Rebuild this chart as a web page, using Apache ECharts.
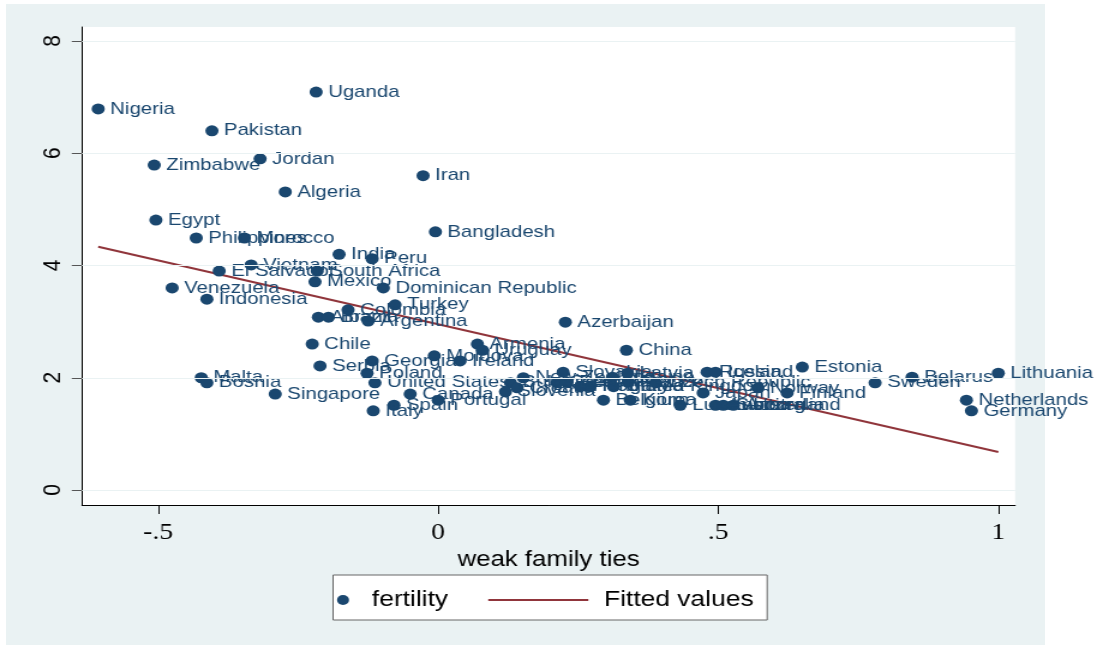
<!DOCTYPE html>
<html>
<head>
<meta charset="utf-8">
<title>fertility vs weak family ties</title>
<script src="https://cdn.jsdelivr.net/npm/echarts@6/dist/echarts.min.js"></script>
<style>
  html, body { margin: 0; padding: 0; background: #fff; }
  #bg { position: absolute; left: 6px; top: 4px; width: 1039px; height: 641px; background: #eaf2f3; }
  /* the reference is stretched 1.2x sideways, so draw narrow and stretch */
  #main { position: absolute; left: 0; top: 0; width: 914px; height: 647px; transform: scaleX(1.2002); transform-origin: 0 0; }
</style>
</head>
<body>
<div id="bg"></div>
<div id="main"></div>
<script>
var countries = ['Nigeria','Uganda','Pakistan','Zimbabwe','Jordan','Iran','Algeria','Egypt','Bangladesh',
  'Philippines','Morocco','India','Peru','Vietnam','El Salvador','South Africa','Mexico','Dominican Republic',
  'Venezuela','Indonesia','Turkey','Colombia','Albania','Brazil','Argentina','Azerbaijan','Chile','Armenia',
  'Uruguay','China','Moldova','Ireland','Georgia','Serbia','Poland','Estonia','Malta','Bosnia','United States',
  'Singapore','Canada','Portugal','Spain','Italy','Lithuania','Belarus','Sweden','Netherlands','Germany',
  'New Zealand','Bulgaria','Croatia','Slovenia','Slovakia','Greece','Denmark','Hungary','Romania','Belgium',
  'Ukraine','Latvia','France','United Kingdom','Korea','Czech Republic','Russia','Iceland','Luxembourg','Japan',
  'Norway','Finland','Austria','Switzerland','Australia'];
var familyTies = [-0.607,-0.218,-0.404,-0.507,-0.318,-0.027,-0.273,-0.504,-0.005,
  -0.432,-0.346,-0.177,-0.118,-0.334,-0.391,-0.216,-0.220,-0.098,
  -0.475,-0.413,-0.077,-0.161,-0.214,-0.196,-0.125,0.227,-0.225,0.070,
  0.079,0.336,-0.007,0.039,-0.118,-0.211,-0.127,0.650,-0.423,-0.413,-0.113,
  -0.291,-0.050,0.000,-0.079,-0.116,1.000,0.846,0.780,0.943,0.952,
  0.152,0.129,0.141,0.120,0.223,0.212,0.230,0.254,0.271,0.295,
  0.311,0.338,0.339,0.313,0.343,0.388,0.480,0.495,0.432,0.473,
  0.571,0.623,0.495,0.509,0.527];
var fertility = [6.79,7.09,6.40,5.79,5.90,5.60,5.31,4.81,4.60,
  4.49,4.49,4.20,4.12,4.01,3.90,3.90,3.71,3.60,
  3.60,3.40,3.30,3.21,3.08,3.08,3.01,2.99,2.60,2.60,
  2.49,2.49,2.39,2.30,2.30,2.21,2.08,2.19,2.00,1.91,1.91,
  1.71,1.71,1.60,1.51,1.41,2.08,2.01,1.91,1.60,1.41,
  2.00,1.91,1.82,1.75,2.10,1.91,1.92,1.84,1.84,1.60,
  2.01,2.08,1.92,1.84,1.60,1.91,2.10,2.10,1.51,1.73,
  1.82,1.73,1.51,1.51,1.51];
var fitX = [-0.607, 1.0];
var fitY = [4.335, 0.677];
var xTicks = [-0.5, 0, 0.5, 1];
var yTicks = [0, 2, 4, 6, 8];

var navy = '#1a476f';
var maroon = '#90353b';

var points = countries.map(function (c, i) { return { name: c, value: [familyTies[i], fertility[i]] }; });
var fitLine = fitX.map(function (x, i) { return [x, fitY[i]]; });

var chart = echarts.init(document.getElementById('main'));
chart.setOption({
  animation: false,
  grid: { left: 68.3, top: 27, width: 777.5, height: 478, show: true, backgroundColor: '#fff', borderWidth: 0 },
  graphic: [{
    type: 'rect', z: 0,
    shape: { x: 277.5, y: 575, width: 361.7, height: 45 },
    style: { fill: '#fff', stroke: '#666', lineWidth: 1 }
  }],
  legend: [{
    data: ['fertility'], left: 280.8, top: 589, orient: 'horizontal',
    itemWidth: 10, itemHeight: 10, padding: 0,
    textStyle: { fontFamily: 'Liberation Sans', fontSize: 22, color: '#000', padding: [0, 0, 0, 14] }
  }, {
    data: ['Fitted values'], left: 405.8, top: 589,
    itemWidth: 83.4, itemHeight: 10, padding: 0,
    itemStyle: { color: 'rgba(0,0,0,0)', borderWidth: 0 },
    textStyle: { fontFamily: 'Liberation Sans', fontSize: 22, color: '#000', padding: [0, 0, 0, 8] }
  }],
  xAxis: {
    type: 'value', min: -0.636, max: 1.030,
    name: 'weak family ties', nameLocation: 'middle', nameGap: 34,
    nameTextStyle: { fontFamily: 'Liberation Sans', fontSize: 21.5, color: '#000' },
    axisLine: { show: true, onZero: false, lineStyle: { color: '#000', width: 1 } },
    axisTick: { show: true, customValues: xTicks, length: 9, lineStyle: { color: '#000' } },
    axisLabel: {
      customValues: xTicks, margin: 16, color: '#000',
      fontFamily: 'Liberation Sans Narrow', fontSize: 23,
      formatter: function (v) {
        if (v === 0) return '0';
        return (v < 0 ? '-' : '') + String(Math.abs(v)).replace(/^0/, '');
      }
    },
    splitLine: { show: false }
  },
  yAxis: {
    type: 'value', min: -0.267, max: 8.249,
    axisLine: { show: true, onZero: false, lineStyle: { color: '#000', width: 1 } },
    axisTick: { show: true, customValues: yTicks, length: 8.5, lineStyle: { color: '#555' } },
    axisLabel: {
      customValues: yTicks, rotate: 90, margin: 14, color: '#000',
      fontFamily: 'Liberation Sans', fontSize: 21
    },
    splitLine: { show: false }
  },
  series: [{
    name: 'grid', type: 'line', data: [], z: 1, silent: true,
    markLine: {
      silent: true, symbol: 'none', label: { show: false },
      lineStyle: { color: '#eaf2f3', type: 'solid', width: 1 },
      data: yTicks.map(function (t) { return { yAxis: t }; })
    }
  }, {
    name: 'fertility', type: 'scatter', z: 3,
    symbol: 'circle', symbolSize: 11,
    itemStyle: { color: navy, opacity: 1 },
    label: {
      show: true, position: 'right', distance: 4.5,
      formatter: '{b}', color: navy,
      fontFamily: 'Liberation Sans', fontSize: 17
    },
    data: points
  }, {
    name: 'Fitted values', type: 'line', z: 2,
    symbol: 'none', showSymbol: false,
    lineStyle: { color: maroon, width: 2 },
    itemStyle: { color: maroon },
    data: fitLine
  }]
});
</script>
</body>
</html>
